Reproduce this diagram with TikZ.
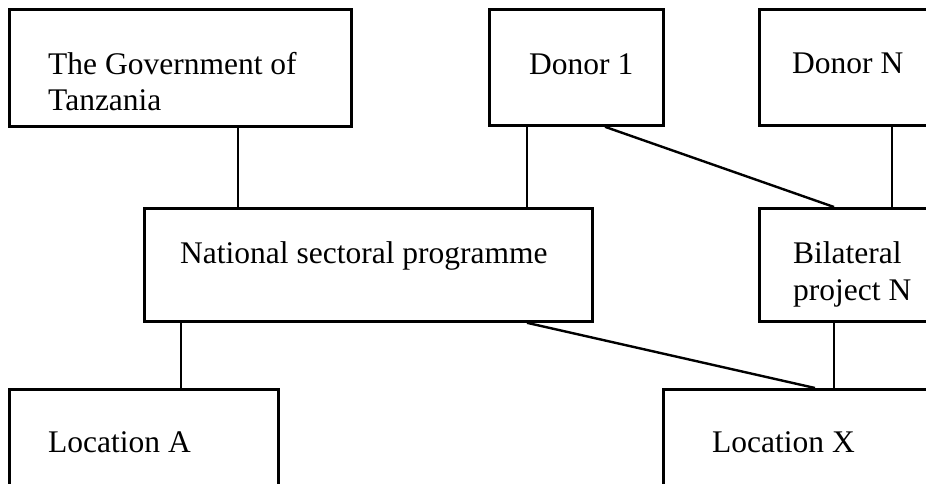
\documentclass[tikz,border=0pt]{standalone}
\usepackage{fontspec}
\setmainfont{Liberation Serif}

\tikzset{
	box/.style={draw, line width=2.8pt, rectangle, anchor=north west, inner sep=0pt},
	lbl/.style={anchor=base west, inner sep=0pt, font=\fontsize{31.5}{36}\selectfont},
	link/.style={line width=2.4pt}
}

\begin{document}
\begin{tikzpicture}[x=1pt, y=-1pt]
	\useasboundingbox (0,0) rectangle (926,483);
	\clip (0,0) rectangle (926,483);
	
	\node[box, minimum width=342pt, minimum height=117pt] (gov) at (8,8) {};
	\node[box, minimum width=174pt, minimum height=116pt] (donor1) at (488,8) {};
	\node[box, minimum width=250pt, minimum height=116pt] (donorN) at (758,8) {};
	\node[box, minimum width=448pt, minimum height=113pt] (natl) at (143,207) {};
	\node[box, minimum width=250pt, minimum height=113pt] (bilat) at (758,207) {};
	\node[box, minimum width=269pt, minimum height=150pt] (locA) at (8,388) {};
	\node[box, minimum width=300pt, minimum height=150pt] (locX) at (662,388) {};
	
	\node[lbl] (gov-1) at (48,74) {The Government of};
	\node[lbl] (gov-2) at (48,110) {Tanzania};
	\node[lbl] (donor1-t) at (529,74) {Donor 1};
	\node[lbl] (donorN-t) at (792,73) {Donor N};
	\node[lbl] (natl-t) at (180,263) {National sectoral programme};
	\node[lbl] (bilat-1) at (793,263) {Bilateral};
	\node[lbl] (bilat-2) at (793,300) {project N};
	\node[lbl] (locA-t) at (48,452) {Location A};
	\node[lbl] (locX-t) at (712,452) {Location X};
	
	\draw[link] (gov.south -| 238,0) -- (natl.north -| 238,0);
	\draw[link] (donor1.south -| 527,0) -- (natl.north -| 527,0);
	\draw[link] (donor1.south -| 605,0) -- (bilat.north -| 834,0);
	\draw[link] (donorN.south -| 892,0) -- (bilat.north -| 892,0);
	\draw[link] (natl.south -| 181,0) -- (locA.north -| 181,0);
	\draw[link] (natl.south -| 527,0) -- (locX.north -| 815,0);
	\draw[link] (bilat.south -| 834,0) -- (locX.north -| 834,0);
\end{tikzpicture}
\end{document}
